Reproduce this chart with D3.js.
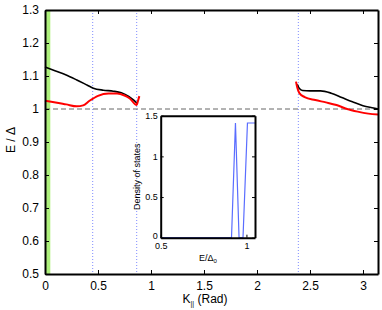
<!DOCTYPE html>
<html>
<head>
<meta charset="UTF-8">
<script src="https://d3js.org/d3.v7.min.js"></script>
<style>
  body { margin: 0; background: #fff; }
  svg { display: block; font-family: "Liberation Sans", Arial, sans-serif; }
</style>
</head>
<body>
<svg width="382" height="310"></svg>
<script>
// main panel data
const blackLeftK = [0, 0.1, 0.2, 0.3, 0.4, 0.456, 0.55, 0.645, 0.72, 0.79, 0.84, 0.87];
const blackLeftE = [1.127, 1.115, 1.103, 1.088, 1.072, 1.063, 1.057, 1.054, 1.049, 1.038, 1.026, 1.017];
const redLeftK = [0, 0.1, 0.2, 0.3, 0.36, 0.42, 0.5, 0.6, 0.68, 0.75, 0.8, 0.865, 0.875, 0.89];
const redLeftE = [1.025, 1.020, 1.014, 1.008, 1.011, 1.025, 1.040, 1.047, 1.047, 1.041, 1.032, 1.012, 1.022, 1.039];
const blackRightK = [2.38, 2.40, 2.43, 2.5, 2.6, 2.7, 2.8, 2.9, 3.0, 3.1, 3.1416];
const blackRightE = [1.075, 1.062, 1.056, 1.055, 1.055, 1.048, 1.035, 1.022, 1.010, 1.003, 1.000];
const redRightK = [2.368, 2.38, 2.40, 2.45, 2.55, 2.65, 2.75, 2.85, 2.95, 3.05, 3.1416];
const redRightE = [1.083, 1.065, 1.048, 1.036, 1.027, 1.020, 1.012, 1.000, 0.992, 0.986, 0.983];
const gapLines = [0.45, 0.865, 2.39];
const greenBand = [0, 0.05];
const xTicks = [0, 0.5, 1, 1.5, 2, 2.5, 3];
const yTicks = [0.5, 0.6, 0.7, 0.8, 0.9, 1, 1.1, 1.2, 1.3];

// inset data (density of states)
const dosE = [0.5, 0.913, 0.936, 0.957, 0.980, 1.006, 1.05];
const dosD = [0, 0, 1.41, 0, 0, 1.41, 1.41];
const insetXTicks = [0.5, 1];
const insetYTicks = [0, 0.5, 1, 1.5];

const svg = d3.select("svg");
const m = { left: 45, right: 378, top: 10, bottom: 274 };

const x = d3.scaleLinear().domain([0, Math.PI]).range([m.left, m.right]);
const y = d3.scaleLinear().domain([0.5, 1.3]).range([m.bottom, m.top]);

// green band near k = 0
svg.append("rect")
    .attr("x", x(greenBand[0]))
    .attr("y", m.top)
    .attr("width", x(greenBand[1]) - x(greenBand[0]))
    .attr("height", m.bottom - m.top)
    .attr("fill", "#aef07c");

// dotted blue verticals
svg.append("g").selectAll("line")
    .data(gapLines)
    .join("line")
    .attr("x1", d => x(d)).attr("x2", d => x(d))
    .attr("y1", m.top).attr("y2", m.bottom)
    .attr("stroke", "#7f8cff")
    .attr("stroke-width", 1)
    .attr("stroke-dasharray", "1,2");

// dashed line at E = 1
svg.append("line")
    .attr("x1", m.left).attr("x2", m.right)
    .attr("y1", y(1)).attr("y2", y(1))
    .attr("stroke", "#666")
    .attr("stroke-width", 1)
    .attr("stroke-dasharray", "5,3");

const line = d3.line().curve(d3.curveMonotoneX);
function drawCurve(ks, es, color, w) {
    svg.append("path")
        .attr("d", line(ks.map((k, i) => [x(k), y(es[i])])))
        .attr("fill", "none")
        .attr("stroke", color)
        .attr("stroke-width", w);
}
drawCurve(blackLeftK, blackLeftE, "#000", 1.6);
drawCurve(redLeftK, redLeftE, "#f00", 2);
drawCurve(blackRightK, blackRightE, "#000", 1.6);
drawCurve(redRightK, redRightE, "#f00", 2);

// axes with inward ticks
const axB = svg.append("g").attr("transform", `translate(0,${m.bottom})`)
    .call(d3.axisBottom(x).tickValues(xTicks).tickFormat(d3.format("")).tickSizeInner(-4).tickSizeOuter(0).tickPadding(7));
const axT = svg.append("g").attr("transform", `translate(0,${m.top})`)
    .call(d3.axisTop(x).tickValues(xTicks).tickFormat("").tickSizeInner(-4).tickSizeOuter(0));
const axL = svg.append("g").attr("transform", `translate(${m.left},0)`)
    .call(d3.axisLeft(y).tickValues(yTicks).tickFormat(d3.format("")).tickSizeInner(-4).tickSizeOuter(0).tickPadding(6));
const axR = svg.append("g").attr("transform", `translate(${m.right},0)`)
    .call(d3.axisRight(y).tickValues(yTicks).tickFormat("").tickSizeInner(-4).tickSizeOuter(0));
[axB, axT, axL, axR].forEach(a => {
    a.select(".domain").attr("stroke", "#000").attr("stroke-width", 2);
    a.selectAll(".tick line").attr("stroke", "#000").attr("stroke-width", 1);
    a.selectAll("text").attr("font-size", 12).attr("font-family", "Liberation Sans, Arial, sans-serif").attr("fill", "#000");
});

// axis labels
const xl = svg.append("text")
    .attr("x", 205).attr("y", 303)
    .attr("text-anchor", "middle")
    .attr("font-size", 12);
xl.append("tspan").text("K");
xl.append("tspan").attr("font-size", 7).attr("dy", 3).text("||");
xl.append("tspan").attr("dy", -3).text(" (Rad)");

svg.append("text")
    .attr("transform", "translate(15,140) rotate(-90)")
    .attr("text-anchor", "middle")
    .attr("font-size", 12)
    .text("E / Δ");

// inset
const ins = { left: 160.7, right: 255, top: 115.7, bottom: 237.7 };
const xi = d3.scaleLinear().domain([0.5, 1.05]).range([ins.left, ins.right]);
const yi = d3.scaleLinear().domain([0, 1.5]).range([ins.bottom, ins.top]);

svg.append("rect")
    .attr("x", ins.left).attr("y", ins.top)
    .attr("width", ins.right - ins.left).attr("height", ins.bottom - ins.top)
    .attr("fill", "#fff");

svg.append("path")
    .attr("d", d3.line()(dosE.map((e, i) => [xi(e), yi(dosD[i])])))
    .attr("fill", "none")
    .attr("stroke", "#5a6dff")
    .attr("stroke-width", 1.2);

const iB = svg.append("g").attr("transform", `translate(0,${ins.bottom})`)
    .call(d3.axisBottom(xi).tickValues(insetXTicks).tickFormat(d3.format("")).tickSizeInner(-3).tickSizeOuter(0).tickPadding(5));
const iT = svg.append("g").attr("transform", `translate(0,${ins.top})`)
    .call(d3.axisTop(xi).tickValues([]).tickSizeOuter(0));
const iL = svg.append("g").attr("transform", `translate(${ins.left},0)`)
    .call(d3.axisLeft(yi).tickValues(insetYTicks).tickFormat(d3.format("")).tickSizeInner(-3).tickSizeOuter(0).tickPadding(3));
const iR = svg.append("g").attr("transform", `translate(${ins.right},0)`)
    .call(d3.axisRight(yi).tickValues(insetYTicks).tickFormat("").tickSizeInner(-3).tickSizeOuter(0));
[iB, iT, iL, iR].forEach(a => {
    a.select(".domain").attr("stroke", "#000").attr("stroke-width", 2);
    a.selectAll(".tick line").attr("stroke", "#000");
    a.selectAll("text").attr("font-size", 9).attr("font-family", "Liberation Sans, Arial, sans-serif").attr("fill", "#000");
});
// lift the "0" label a little so it clears the "0.5" below it
iL.selectAll(".tick text").filter(d => d === 0).attr("dy", "0.1em");

svg.append("text")
    .attr("transform", `translate(140,${(ins.top + ins.bottom) / 2}) rotate(-90)`)
    .attr("text-anchor", "middle")
    .attr("font-size", 9)
    .text("Density of states");

const il = svg.append("text")
    .attr("x", 208).attr("y", 261)
    .attr("text-anchor", "middle")
    .attr("font-size", 9);
il.append("tspan").text("E/Δ");
il.append("tspan").attr("font-size", 6).attr("dy", 2).text("0");
</script>
</body>
</html>
